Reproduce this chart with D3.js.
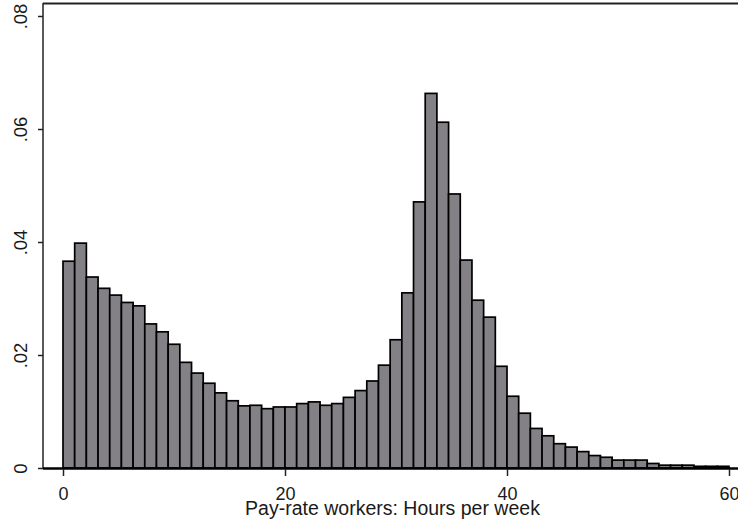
<!DOCTYPE html>
<html>
<head>
<meta charset="utf-8">
<script src="https://cdn.jsdelivr.net/npm/d3@7"></script>
<style>
  html, body { margin: 0; padding: 0; background: #fff; }
  svg { display: block; }
  text { font-family: "Liberation Sans", Arial, Helvetica, sans-serif; fill: #1a1a1a; }
</style>
</head>
<body>
<svg id="chart" width="738" height="527"></svg>
<script>
// Histogram of pay-rate workers' weekly hours: 57 equal bins spanning 0-60 hours
const binCount = 57;
const binStart = 0;
const binEnd = 60;
const density = [
  0.0366, 0.0398, 0.0338, 0.0318, 0.0306, 0.0293, 0.0287, 0.0255, 0.0241, 0.0219,
  0.0187, 0.0168, 0.0150, 0.0133, 0.0119, 0.0110, 0.0111, 0.0105, 0.0108, 0.0108,
  0.0114, 0.0117, 0.0111, 0.0114, 0.0125, 0.0137, 0.0154, 0.0182, 0.0227, 0.0310,
  0.0471, 0.0663, 0.0612, 0.0485, 0.0368, 0.0297, 0.0267, 0.0180, 0.0127, 0.0097,
  0.0070, 0.0057, 0.0043, 0.0037, 0.0029, 0.0022, 0.0019, 0.0014, 0.0014, 0.0014,
  0.0008, 0.0005, 0.0005, 0.0005, 0.0003, 0.0003, 0.0003
];
const xTicks = [0, 20, 40, 60];
const yTicks = [0, 0.02, 0.04, 0.06, 0.08];
const xLabel = "Pay-rate workers: Hours per week";

const svg = d3.select("#chart");
const frame = { left: 43, right: 738, top: 3, bottom: 468 };

const x = d3.scaleLinear().domain([0, 60]).range([63, 729]);
const y = d3.scaleLinear().domain([0, 0.08]).range([468, 16]);

const binW = (binEnd - binStart) / binCount;
const bins = density.map((v, i) => ({ x0: binStart + i * binW, x1: binStart + (i + 1) * binW, v }));

// bars
svg.append("g")
  .selectAll("rect")
  .data(bins)
  .join("rect")
  .attr("x", d => x(d.x0))
  .attr("width", d => x(d.x1) - x(d.x0))
  .attr("y", d => y(d.v))
  .attr("height", d => y(0) - y(d.v))
  .attr("fill", "#838186")
  .attr("stroke", "#000")
  .attr("stroke-width", 1.7);

// frame lines
svg.append("line")
  .attr("x1", frame.left).attr("x2", frame.right)
  .attr("y1", frame.top + 0.5).attr("y2", frame.top + 0.5)
  .attr("stroke", "#222").attr("stroke-width", 2);
svg.append("line")
  .attr("x1", frame.left).attr("x2", frame.left)
  .attr("y1", frame.top).attr("y2", frame.bottom + 1)
  .attr("stroke", "#222").attr("stroke-width", 1.5);
svg.append("line")
  .attr("x1", frame.left).attr("x2", frame.right)
  .attr("y1", frame.bottom + 0.5).attr("y2", frame.bottom + 0.5)
  .attr("stroke", "#000").attr("stroke-width", 2.5);

// y axis
const yAxis = svg.append("g")
  .attr("transform", `translate(${frame.left},0)`)
  .call(d3.axisLeft(y).tickValues(yTicks).tickSize(5).tickSizeOuter(0)
    .tickFormat(d => d === 0 ? "0" : d3.format(".2f")(d).replace(/^0/, "")));
yAxis.select(".domain").remove();
yAxis.selectAll(".tick line").attr("stroke", "#222").attr("stroke-width", 1.5);
yAxis.selectAll(".tick text")
  .attr("transform", "rotate(-90)")
  .attr("x", 0).attr("y", -16).attr("dy", 0)
  .attr("text-anchor", "middle")
  .style("font-size", "18.5px")
  .style("fill", "#1a1a1a");

// x axis
const xAxis = svg.append("g")
  .attr("transform", `translate(0,${frame.bottom + 1})`)
  .call(d3.axisBottom(x).tickValues(xTicks).tickSize(7).tickSizeOuter(0));
xAxis.select(".domain").remove();
xAxis.selectAll(".tick line").attr("stroke", "#222").attr("stroke-width", 1.5);
xAxis.selectAll(".tick text")
  .attr("y", 31).attr("dy", 0)
  .style("font-size", "18px")
  .style("fill", "#1a1a1a");

// x label
svg.append("text")
  .attr("x", 392.5).attr("y", 515)
  .attr("text-anchor", "middle")
  .style("font-size", "19.5px")
  .text(xLabel);
</script>
</body>
</html>
